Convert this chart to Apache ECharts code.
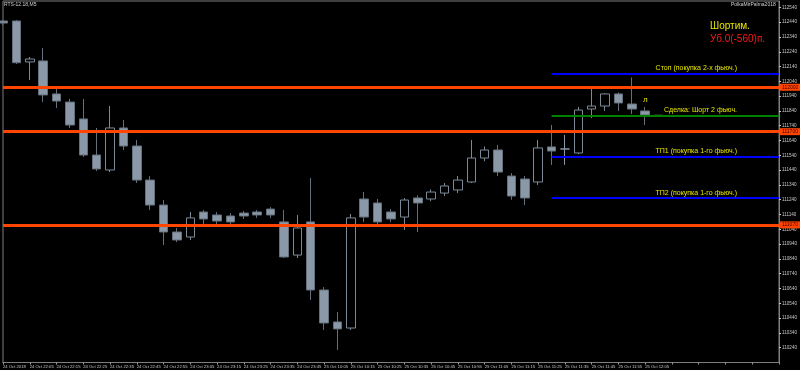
<!DOCTYPE html>
<html><head><meta charset="utf-8">
<script src="https://cdn.jsdelivr.net/npm/echarts@6/dist/echarts.min.js"></script>
<style>html,body{margin:0;padding:0;background:#000}#c{width:800px;height:370px}</style>
</head><body><div id="c"></div>
<script>
const times = ["24 Oct 2018","24 Oct 22:00","24 Oct 22:05","24 Oct 22:10","24 Oct 22:15","24 Oct 22:20","24 Oct 22:25","24 Oct 22:30","24 Oct 22:35","24 Oct 22:40",
"24 Oct 22:45","24 Oct 22:50","24 Oct 22:55","24 Oct 23:00","24 Oct 23:05","24 Oct 23:10","24 Oct 23:15","24 Oct 23:20","24 Oct 23:25","24 Oct 23:30",
"24 Oct 23:35","24 Oct 23:40","24 Oct 23:45","25 Oct 10:00","25 Oct 10:05","25 Oct 10:10","25 Oct 10:15","25 Oct 10:20","25 Oct 10:25","25 Oct 10:30",
"25 Oct 10:35","25 Oct 10:40","25 Oct 10:45","25 Oct 10:50","25 Oct 10:55","25 Oct 11:00","25 Oct 11:05","25 Oct 11:10","25 Oct 11:15","25 Oct 11:20",
"25 Oct 11:25","25 Oct 11:30","25 Oct 11:35","25 Oct 11:40","25 Oct 11:45","25 Oct 11:50","25 Oct 11:55","25 Oct 12:00","25 Oct 12:05","25 Oct 12:10"];
const opens  = [112448,112448,112171,112178,111955,111900,111786,111542,111441,111725,111603,111373,111204,111022,110988,111157,111137,111130,111150,111157,111177,111090,110866,111090,110630,110414,110373,111245,111218,111157,111123,111252,111245,111285,111306,111360,111522,111576,111400,111380,111360,111597,111583,111556,111853,111873,111955,111887,111840,111810];
const closes = [112434,112166,112191,111948,111907,111745,111542,111448,111725,111603,111373,111204,111022,110968,111117,111110,111096,111090,111130,111137,111137,110853,111049,110630,110407,110367,111117,111123,111090,111110,111238,111218,111292,111333,111373,111522,111576,111427,111265,111252,111590,111569,111583,111846,111873,111955,111894,111853,111813,111810];
const lows   = [112420,112157,112049,111900,111860,111725,111529,111434,111427,111576,111353,111171,110934,110954,110968,111076,111069,111076,111110,111117,111117,110846,110846,110563,110360,110225,110360,111090,111063,111090,111036,111022,111230,111265,111285,111353,111500,111400,111240,111204,111340,111475,111475,111549,111792,111840,111840,111819,111745,111810];
const highs  = [112455,112455,112205,112265,112002,111921,111921,111725,111873,111779,111644,111400,111238,111049,111157,111171,111157,111150,111165,111171,111190,111171,111137,111387,110650,110481,111144,111292,111245,111177,111252,111270,111310,111353,111400,111644,111600,111610,111420,111400,111644,111745,111678,111867,111988,111960,111965,112066,111867,111810];
const yTicks = [110240,110340,110440,110540,110640,110740,110840,110940,111040,111140,111240,111340,111440,111540,111640,111740,111840,111940,112040,112140,112240,112340,112440,112540];
const levels = [112000,111700,111070];
const trade = [
  {name:"Стоп (покупка 2-х фьюч.)", value:112090, color:"#0000ff"},
  {name:"Сделка: Шорт 2 фьюч.", value:111810, color:"#008000"},
  {name:"ТП1 (покупка 1-го фьюч.)", value:111530, color:"#0000ff"},
  {name:"ТП2 (покупка 1-го фьюч.)", value:111250, color:"#0000ff"}
];
const tradeStart = 41;
const signalIdx = 48, signalPrice = 111914;
const totalSlots = 59;

const cats = times.concat(new Array(totalSlots - times.length).fill(''));
const ohlc = opens.map((o,i)=>[o, closes[i], lows[i], highs[i]]);
const FONT = 'Liberation Sans';

const chart = echarts.init(document.getElementById('c'), null, {renderer:'canvas'});
chart.setOption({
  backgroundColor:'#000',
  animation:false,
  grid:{left:1, right:20, top:1, bottom:7.5, show:true, borderColor:'#7f7f7f', borderWidth:1, backgroundColor:'#000'},
  xAxis:{type:'category', data:cats, boundaryGap:false,
    axisLine:{show:true, lineStyle:{color:'#7f7f7f'}},
    axisTick:{show:true, interval:1, length:2, lineStyle:{color:'#9a9a9a'}},
    axisLabel:{interval:1, align:'left', fontSize:4.2, color:'#c8c8c8', margin:2, fontFamily:FONT, showMinLabel:true, hideOverlap:false},
    splitLine:{show:false}},
  yAxis:{type:'value', position:'right', min:110140, max:112583, scale:true,
    axisLine:{show:true, lineStyle:{color:'#7f7f7f'}},
    axisTick:{show:true, length:2, customValues:yTicks, lineStyle:{color:'#c8c8c8'}},
    axisLabel:{customValues:yTicks, formatter:v=>String(v), fontSize:4.6, color:'#c8c8c8', margin:3, fontFamily:FONT},
    splitLine:{show:false}},
  series:[{
    type:'candlestick', data:ohlc, barWidth:9,
    itemStyle:{color:'#000', color0:'#8a98a8', borderColor:'#7c8a98', borderColor0:'#64707c', borderColorDoji:'#8a98a8', borderWidth:1},
    markLine:{silent:true, symbol:['none','none'], animation:false,
      data: levels.map(v=>({yAxis:v, lineStyle:{color:'#ff4500', width:3, type:'solid'},
        label:{show:true, position:'end', formatter:String(v), backgroundColor:'#ff4500', color:'#400', fontSize:5, padding:[1,2], distance:1, fontFamily:FONT}}))
      .concat(trade.map(t=>[
        {coord:[tradeStart, t.value], lineStyle:{color:t.color, width:2, type:'solid'},
         label:{show:true, position:'insideEndTop', formatter:t.name, color:'#e6e600', fontSize:7, distance:[42,2], fontFamily:FONT}},
        {coord:[totalSlots-1, t.value]}]))
    },
    markPoint:{silent:true, data:[{coord:[signalIdx, signalPrice], symbol:'circle', symbolSize:0,
      label:{show:true, formatter:'л', color:'#e6e600', fontSize:8, fontFamily:FONT}}]}
  }],
  graphic:[
    {type:'text', left:4, top:2, style:{text:'RTS-12.18,M5', fill:'#d0d0d0', fontSize:5, fontFamily:FONT}},
    {type:'text', left:731, top:2, style:{text:'PolkaMirPalma2018', fill:'#d0d0d0', fontSize:5, fontFamily:FONT}},
    {type:'text', left:710, top:21, style:{text:'Шортим.', fill:'#e6e600', fontSize:10, fontFamily:FONT}},
    {type:'text', left:710, top:34, style:{text:'Уб.0(-560)п.', fill:'#ff1a1a', fontSize:10, fontFamily:FONT}}
  ]
});
</script></body></html>
